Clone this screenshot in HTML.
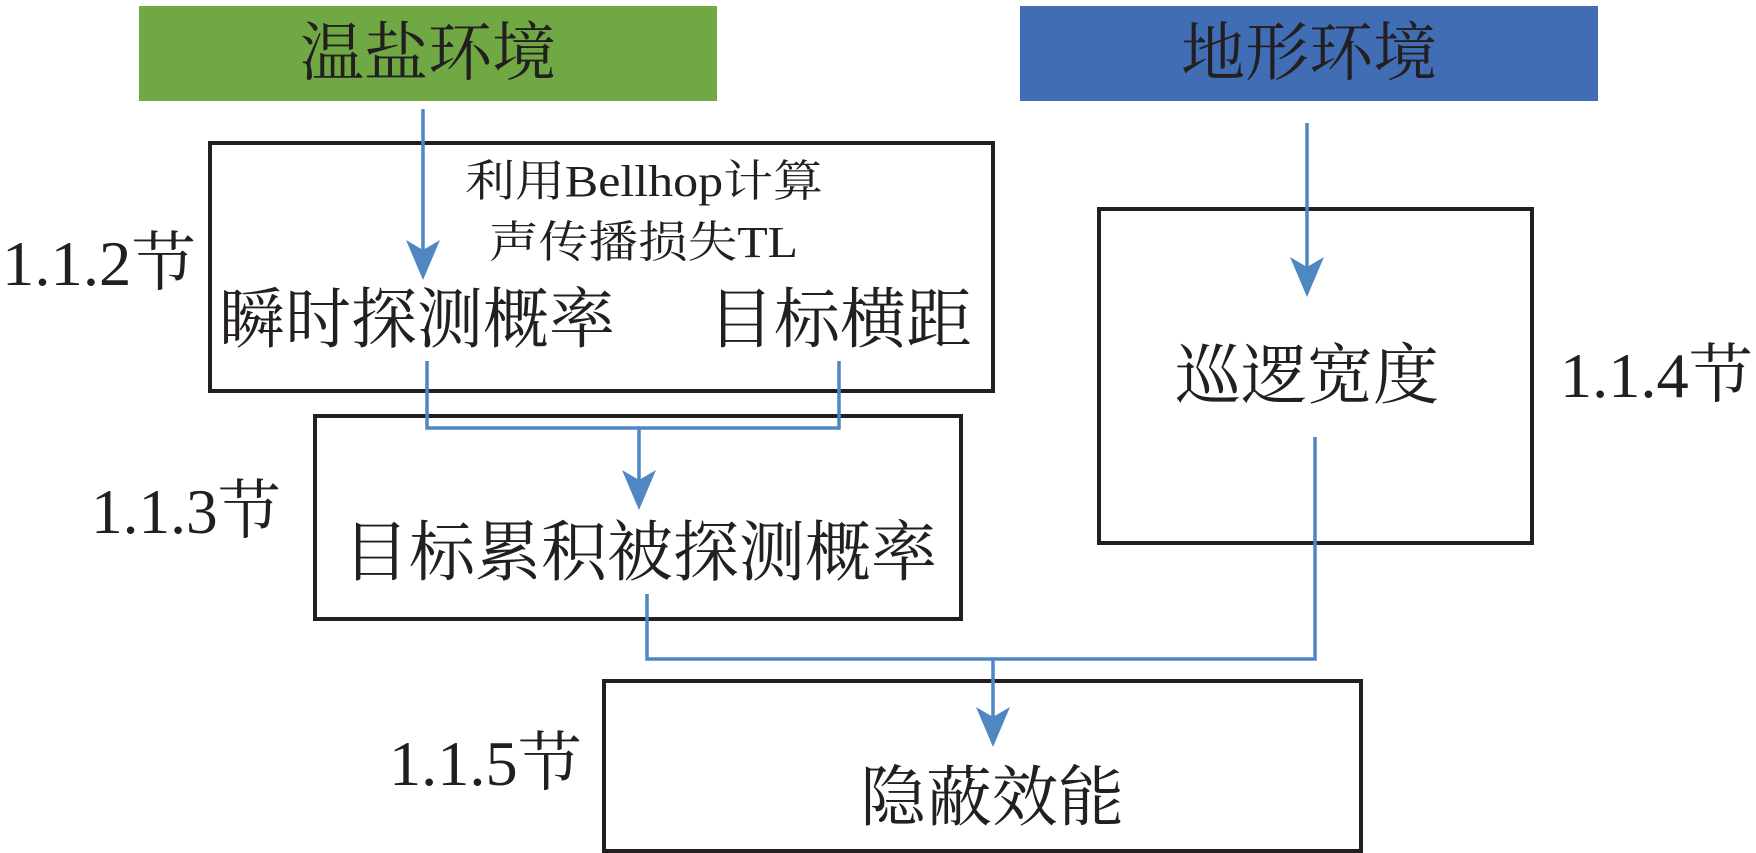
<!DOCTYPE html>
<html><head><meta charset="utf-8"><style>
html,body{margin:0;padding:0;background:#fff;}
svg{display:block;}
text{font-family:"Liberation Serif","Noto Serif CJK SC",serif;fill:#231f20;}
</style></head><body>
<svg width="1756" height="853" viewBox="0 0 1756 853" xmlns="http://www.w3.org/2000/svg">
<rect x="139" y="6" width="578" height="95" fill="#70a843"/>
<rect x="1020" y="6" width="578" height="95" fill="#406db4"/>
<text x="428" y="75" font-size="64" text-anchor="middle">温盐环境</text>
<text x="1309" y="75" font-size="64" text-anchor="middle">地形环境</text>

<g fill="none" stroke="#231f20" stroke-width="4">
<rect x="210" y="143" width="783" height="248"/>
<rect x="315" y="416" width="646" height="203"/>
<rect x="1099" y="209" width="433" height="334"/>
<rect x="604" y="681" width="757" height="170"/>
</g>

<text x="465" y="196" font-size="44" textLength="358" lengthAdjust="spacingAndGlyphs">利用Bellhop计算</text>
<text x="489" y="257" font-size="44" textLength="309" lengthAdjust="spacingAndGlyphs">声传播损失TL</text>
<text x="417" y="342" font-size="66" text-anchor="middle">瞬时探测概率</text>
<text x="840" y="342" font-size="66" text-anchor="middle">目标横距</text>
<text x="640" y="575" font-size="66" text-anchor="middle">目标累积被探测概率</text>
<text x="1307" y="398" font-size="66" text-anchor="middle">巡逻宽度</text>
<text x="992" y="820" font-size="66" text-anchor="middle">隐蔽效能</text>

<text x="2" y="285" font-size="64" textLength="194" lengthAdjust="spacingAndGlyphs">1.1.2节</text>
<text x="91" y="533" font-size="64" textLength="190" lengthAdjust="spacingAndGlyphs">1.1.3节</text>
<text x="1560" y="397" font-size="64" textLength="193" lengthAdjust="spacingAndGlyphs">1.1.4节</text>
<text x="389" y="785" font-size="64" textLength="193" lengthAdjust="spacingAndGlyphs">1.1.5节</text>

<g fill="none" stroke="#4f87c2" stroke-width="3.5">
<line x1="423" y1="109" x2="423" y2="268"/>
<line x1="1307" y1="123" x2="1307" y2="285"/>
<polyline points="427,361 427,428 839,428 839,361"/>
<line x1="639" y1="428" x2="639" y2="498"/>
<polyline points="647,594 647,659 1315,659 1315,437"/>
<line x1="993" y1="659" x2="993" y2="735"/>
</g>
<g fill="#4f87c2">
<polygon points="423,280 406,240 423,250 440,240"/>
<polygon points="1307,297 1290,257 1307,267 1324,257"/>
<polygon points="639,510 622,470 639,480 656,470"/>
<polygon points="993,747 976,707 993,717 1010,707"/>
</g>
</svg>
</body></html>
